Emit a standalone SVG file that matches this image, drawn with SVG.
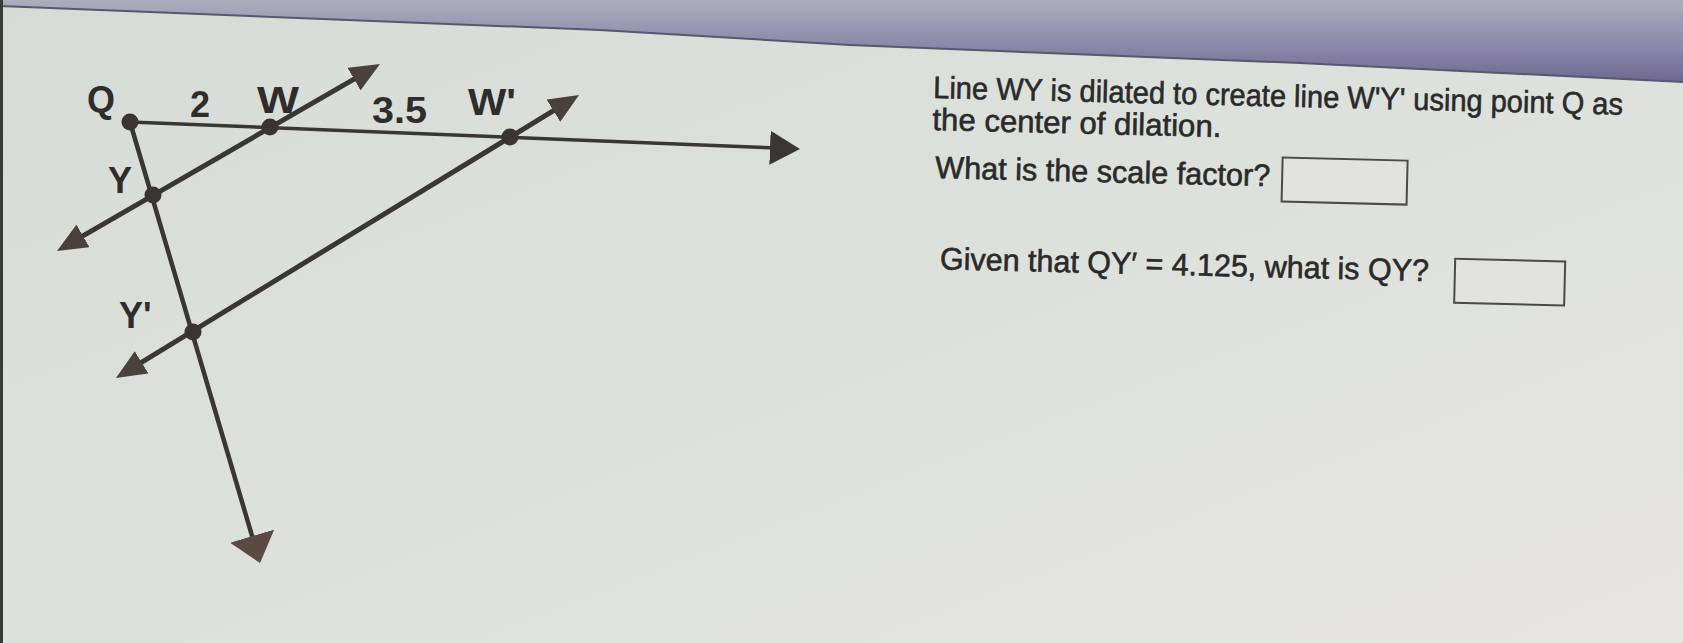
<svg xmlns="http://www.w3.org/2000/svg" width="1683" height="643" viewBox="0 0 1683 643">
  <defs>
    <linearGradient id="bg" x1="0" y1="0" x2="1" y2="1">
      <stop offset="0" stop-color="#d6dcd5"/>
      <stop offset="0.5" stop-color="#dde1db"/>
      <stop offset="1" stop-color="#e7e5e0"/>
    </linearGradient>
    <linearGradient id="band" x1="0" y1="0" x2="0" y2="1">
      <stop offset="0" stop-color="#aeadbd"/>
      <stop offset="0.55" stop-color="#8c88a9"/>
      <stop offset="1" stop-color="#6f6992"/>
    </linearGradient>
    <marker id="ah" viewBox="0 0 30 26" refX="1" refY="13" markerWidth="30" markerHeight="26" markerUnits="userSpaceOnUse" orient="auto-start-reverse">
      <path d="M0,0 L30,13 L0,26 z" fill="#4a403c"/>
    </marker>
    <marker id="ahH" viewBox="0 0 30 34" refX="1" refY="17" markerWidth="30" markerHeight="34" markerUnits="userSpaceOnUse" orient="auto">
      <path d="M0,0 L30,17 L0,34 z" fill="#3a3634"/>
    </marker>
    <marker id="ahBig" viewBox="0 0 28 46" refX="1" refY="23" markerWidth="28" markerHeight="46" markerUnits="userSpaceOnUse" orient="auto">
      <path d="M0,0 L28,23 L0,46 z" fill="#5a4a43"/>
    </marker>
    <style>
      .ln { fill: none; stroke: #393634; stroke-linecap: butt; }
      .dot { fill: #3a3532; }
      .lbl { font-family: "Liberation Sans", Arial, sans-serif; font-weight: bold; font-size: 36px; fill: #2e2d2c; }
      .q { font-family: "Liberation Sans", Arial, sans-serif; font-size: 31px; fill: #2a2a2a; stroke: #2a2a2a; stroke-width: 0.6; }
      .box { fill: #e2e3df; stroke: #4a4a48; stroke-width: 2; }
    </style>
  </defs>

  <rect width="1683" height="643" fill="url(#bg)"/>
  <polygon points="0,0 1683,0 1683,82 1300,63 850,45 600,30 0,6" fill="url(#band)"/>
  <polyline points="0,6 600,30 850,45 1300,63 1683,82" fill="none" stroke="#5a5570" stroke-width="2"/>
  <rect x="0" y="0" width="3" height="643" fill="#3a3a3a"/>

  <g id="connectors">
    <line class="ln" x1="130" y1="122" x2="771" y2="147.8" stroke-width="3.5" marker-end="url(#ahH)"/>
    <line class="ln" x1="82.1" y1="236.4" x2="354.9" y2="78.6" stroke-width="5" marker-start="url(#ah)" marker-end="url(#ah)"/>
    <line class="ln" x1="140.7" y1="362.8" x2="554.3" y2="110.2" stroke-width="5" marker-start="url(#ah)" marker-end="url(#ah)"/>
    <line class="ln" x1="130" y1="122" x2="252.4" y2="537.1" stroke-width="4.5" stroke="#4a3f3c" marker-end="url(#ahBig)"/>
  </g>

  <g id="node-Q">
    <circle class="dot" cx="130" cy="122" r="8.5"/>
    <text class="lbl" x="87" y="112">Q</text>
  </g>
  <g id="label-2">
    <text class="lbl" x="190" y="117">2</text>
  </g>
  <g id="node-W">
    <circle class="dot" cx="270" cy="127" r="8.5"/>
    <text class="lbl" x="257" y="113" textLength="42" lengthAdjust="spacingAndGlyphs">W</text>
  </g>
  <g id="label-3-5">
    <text class="lbl" x="372" y="123" textLength="55" lengthAdjust="spacingAndGlyphs">3.5</text>
  </g>
  <g id="node-W-prime">
    <circle class="dot" cx="510" cy="137" r="8.5"/>
    <text class="lbl" x="468" y="115" textLength="48" lengthAdjust="spacingAndGlyphs">W'</text>
  </g>
  <g id="node-Y">
    <circle class="dot" cx="153" cy="195" r="8.5"/>
    <text class="lbl" x="108" y="193">Y</text>
  </g>
  <g id="node-Y-prime">
    <circle class="dot" cx="193" cy="332" r="8.5"/>
    <text class="lbl" x="119" y="328">Y'</text>
  </g>

  <g id="question" transform="rotate(1.4 933 98)">
    <text class="q" x="933" y="98" textLength="690" lengthAdjust="spacingAndGlyphs">Line WY is dilated to create line W'Y' using point Q as</text>
    <text class="q" x="933" y="130" textLength="289" lengthAdjust="spacingAndGlyphs">the center of dilation.</text>
    <text class="q" x="937" y="178" textLength="335" lengthAdjust="spacingAndGlyphs">What is the scale factor?</text>
    <rect class="box" x="1284" y="149" width="125" height="44"/>
    <text class="q" x="944" y="269" textLength="489" lengthAdjust="spacingAndGlyphs">Given that QY′ = 4.125, what is QY?</text>
    <rect class="box" x="1459" y="246" width="110" height="44"/>
  </g>
</svg>
